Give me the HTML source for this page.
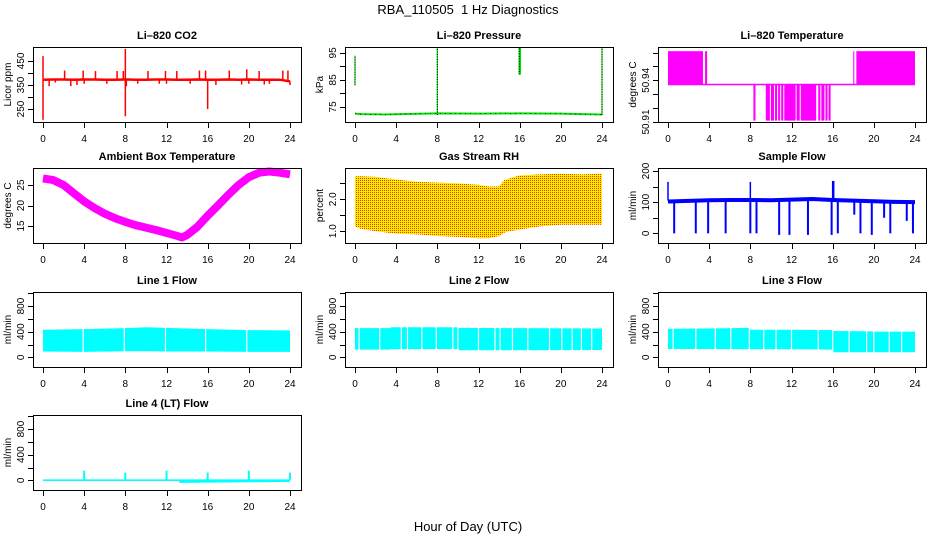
<!DOCTYPE html>
<html><head><meta charset="utf-8"><style>
html,body{margin:0;padding:0;background:#fff;}
svg{display:block;font-family:"Liberation Sans",Arial,sans-serif;}
</style></head><body>
<svg id="c" width="936" height="540" viewBox="0 0 936 540" xmlns="http://www.w3.org/2000/svg">
<defs>
<pattern id="rhpat" width="2" height="2" patternUnits="userSpaceOnUse">
<rect width="2" height="2" fill="#ffee00"/><rect width="1" height="1" fill="#ee3300"/>
</pattern>
</defs>
<text x="468" y="14" font-size="13" text-anchor="middle">RBA_110505&#160; 1 Hz Diagnostics</text>
<text x="468" y="531" font-size="13" text-anchor="middle">Hour of Day (UTC)</text>
</svg>
<script>
// ---- data ----
const xTicks = [0,4,8,12,16,20,24];
const co2BaseHours = [0,1,2,3,4,5,6,7,8,9,10,11,12,13,14,15,16,17,18,19,20,21,22,23,24];
const co2BaseVals = [372,373,373,372,373,373,372,372,373,372,372,373,373,372,372,373,372,372,373,372,373,372,372,372,365];
const co2SpikeHours = [0,0,0.6,1.2,2.1,2.7,3.3,3.9,4.0,5.1,6.2,7.2,7.8,8.0,8.0,8.1,9.2,10.2,11.3,11.9,12.0,13.0,14.3,15.2,15.8,16.0,16.8,18.1,19.3,19.8,20.0,21.0,21.5,22.0,23.3,23.8,24];
const co2SpikeVals = [470,205,345,360,410,345,350,410,355,408,355,408,408,500,220,345,355,408,355,408,355,408,355,410,410,250,350,410,352,415,355,408,352,355,410,410,350];

const ptHours = [0,0.6,2.7,8,12,16,20,22,24];
const ptVals = [72.5,72.3,72.2,72.6,72.5,72.6,72.5,72.3,72.2];
const ptSpikeHours = [0,8,16,24];
const ptSpikeLo = [83,72,87,72];
const ptSpikeHi = [94,97,97,97];

const ltHiStart = [0,3.6,18.0,18.3];
const ltHiEnd = [3.4,3.8,18.1,24];
const ltLoStart = [8.3,9.5,10.0,10.4,10.7,11.0,11.3,12.5,12.9,14.6,14.9,15.3,15.6];
const ltLoEnd = [8.5,9.9,10.3,10.6,10.9,11.2,12.4,12.8,14.4,14.8,15.2,15.5,15.8];
const ltLevels = [50.911,50.937,50.961];

const ambHours = [0,1,2,3,4,5,6,7,8,9,10,11,12,13,13.5,14,15,16,17,18,19,20,21,22,23,24];
const ambVals = [26.6,26.2,25,23,21,19.4,18,16.9,16,15.2,14.6,14,13.3,12.6,12.2,12.8,14.8,17.5,20,22.6,25,26.9,28,28.3,28,27.6];

const rhHours = [0,0.5,2,4,6,8,10,12,13,14,14.5,15,16,18,20,22,24];
const rhUpper = [2.72,2.72,2.7,2.62,2.55,2.52,2.5,2.45,2.4,2.4,2.6,2.65,2.75,2.78,2.8,2.78,2.8];
const rhLower = [1.15,1.08,1.0,0.92,0.9,0.85,0.82,0.78,0.78,0.85,0.95,1.0,1.05,1.15,1.2,1.2,1.2];

const sfHours = [0,2,4,6,8,10,12,14,16,18,20,22,24];
const sfVals = [102,104,106,107,107,106,108,110,107,105,103,101,100];
const sfDipHours = [0.6,2.7,3.9,5.6,8.0,8.6,10.8,11.8,13.6,15.9,16.5,18.1,18.7,19.8,21.0,21.6,23.2,23.8];
const sfDipVals = [0,0,0,0,0,0,-5,-5,-5,-5,0,60,0,-5,50,0,40,0];
const sfSpikeHours = [0,8,16,16.1];
const sfSpikeVals = [165,165,168,168];

const l1Hours = [0,4,8,10,12,16,20,24];
const l1Upper = [430,440,455,470,460,440,425,420];
const l1Lower = [90,85,95,95,90,90,85,85];
const l1Gaps = [3.9,7.9,11.9,15.8,19.8];

const l2Hours = [0,3.4,3.5,10,10.1,16,24];
const l2Upper = [455,455,470,470,460,455,450];
const l2Lower = [120,120,125,130,110,110,115];
const l2Gaps = [0.4,2.4,4.5,5.1,6.5,7.9,9.5,10.0,12.0,13.6,14.1,15.3,16.8,18.9,20.1,21.1,22.0,23.0];

const l3Hours = [0,4,7.9,8,12,16,16.1,20,20.1,24];
const l3Upper = [445,450,460,430,430,425,410,405,400,400];
const l3Lower = [130,130,125,125,125,120,80,80,80,80];
const l3Gaps = [0.5,2.7,4.6,6.1,7.9,9.3,10.5,12.0,14.6,16.0,17.6,19.3,20.0,21.5,22.7];

const l4Hours = [0,13.2,13.3,24];
const l4Upper = [15,15,15,15];
const l4Lower = [-10,-10,-40,-25];
const l4SpikeHours = [4,8,12,16,20,24];
const l4SpikeVals = [150,120,150,120,150,120];

// ---- layout ----
const svg = document.getElementById('c');
const NS = 'http://www.w3.org/2000/svg';
const colL = [33,345,658], rowT = [47,168,292,415], W = 268, H = 75;
function mk(tag, attrs, parent){const e=document.createElementNS(NS,tag);for(const k in attrs)e.setAttribute(k,attrs[k]);(parent||svg).appendChild(e);return e;}

function panel(name, col, row, title, ylab, ymin, ymax, ticks, labeled, fmt){
  const L=colL[col], T=rowT[row];
  const g = mk('g',{});
  
  
  const sx = h => L+10 + h/24*247;
  const sy = v => T+H - (v-ymin)/(ymax-ymin)*H;
  const plot = mk('g',{},g);
  
  
  const box = mk('rect',{x:L+0.5,y:T+0.5,width:W,height:H,fill:'none',stroke:'#000','stroke-width':1},g);
  
  
  const t = mk('text',{x:L+W/2,y:T-8,'font-size':11,'font-weight':'bold','text-anchor':'middle'},g);
  t.textContent = title;
  
  
  const yl = mk('text',{transform:`translate(${L-22},${T+H/2}) rotate(-90)`,'font-size':10,'text-anchor':'middle'},g);
  yl.textContent = ylab;
  
  
  const xa = mk('g',{},g);
  
  
  mk('line',{x1:sx(0),x2:sx(24),y1:T+H+0.5,y2:T+H+0.5,stroke:'#000'},xa);
  xTicks.forEach(h=>{
    mk('line',{x1:Math.round(sx(h))+0.5,x2:Math.round(sx(h))+0.5,y1:T+H,y2:T+H+6,stroke:'#000'},xa);
    const tx = mk('text',{x:sx(h),y:T+H+20,'font-size':10,'text-anchor':'middle'},xa);
    tx.textContent = h;
    
    
  });
  const ya = mk('g',{},g);
  
  
  mk('line',{x1:L+0.5,x2:L+0.5,y1:sy(ticks[0]),y2:sy(ticks[ticks.length-1]),stroke:'#000'},ya);
  ticks.forEach(v=>{
    const y=Math.round(sy(v))+0.5;
    mk('line',{x1:L-5,x2:L,y1:y,y2:y,stroke:'#000'},ya);
    if(labeled.includes(v)){
      const tx = mk('text',{transform:`translate(${L-9},${sy(v)}) rotate(-90)`,'font-size':10,'text-anchor':'middle'},ya);
      tx.textContent = fmt ? fmt(v) : String(v);
      
      
    }
  });
  return {sx,sy,plot};
}
function poly(p, pts, attrs, nm){const e=mk('polyline',Object.assign({points:pts.map(q=>q.join(',')).join(' '),fill:'none'},attrs),p);return e;}
function band(P, hours, up, lo, fill, nm){
  const pts=[];hours.forEach((h,i)=>pts.push([P.sx(h),P.sy(up[i])]));
  for(let i=hours.length-1;i>=0;i--)pts.push([P.sx(hours[i]),P.sy(lo[i])]);
  const e=mk('polygon',{points:pts.map(q=>q.join(',')).join(' '),fill:fill},P.plot);
  return e;
}
function vline(P,h,a,b,color,w,nm,dash){
  const e=mk('line',{x1:P.sx(h),x2:P.sx(h),y1:P.sy(a),y2:P.sy(b),stroke:color,'stroke-width':w},P.plot);
  if(dash)e.setAttribute('stroke-dasharray',dash);
  return e;
}

// CO2
let P = panel('co2',0,0,'Li\u2013820 CO2','Licor ppm',196,508,[250,300,350,400,450],[250,350,450]);
co2SpikeHours.forEach((h,i)=>vline(P,h,co2BaseVals[Math.min(Math.round(h),24)],co2SpikeVals[i],'#f00',1.5,'co2-spike'));
poly(P.plot, co2BaseHours.map((h,i)=>[P.sx(h),P.sy(co2BaseVals[i])]),{stroke:'#f00','stroke-width':2.5},'co2-line');

// Pressure
P = panel('pressure',1,0,'Li\u2013820 Pressure','kPa',69.4,97.2,[75,80,85,90,95],[75,85,95]);
poly(P.plot, ptHours.map((h,i)=>[P.sx(h),P.sy(ptVals[i])]),{stroke:'#00dd00','stroke-width':2},'pressure-line');
poly(P.plot, ptHours.map((h,i)=>[P.sx(h),P.sy(ptVals[i])]),{stroke:'#000','stroke-width':0.6,'stroke-dasharray':'1 4'},'pressure-points');
ptSpikeHours.forEach((h,i)=>{vline(P,h,ptSpikeLo[i],ptSpikeHi[i],'#00dd00',i==2?2.5:1.2,'pressure-spike');vline(P,h,ptSpikeLo[i],ptSpikeHi[i],'#000',1,'pressure-spike-dots','1 1.5');});

// Li-820 temperature
P = panel('li820-temp',2,0,'Li\u2013820 Temperature','degrees C',50.91,50.964,[50.91,50.92,50.93,50.94,50.95,50.96],[50.91,50.94]);
ltHiStart.forEach((s,i)=>{const e=mk('rect',{x:P.sx(s),y:P.sy(ltLevels[2]),width:P.sx(ltHiEnd[i])-P.sx(s),height:P.sy(ltLevels[1])-P.sy(ltLevels[2]),fill:'#ff00ff'},P.plot);});
ltLoStart.forEach((s,i)=>{const e=mk('rect',{x:P.sx(s),y:P.sy(ltLevels[1]),width:P.sx(ltLoEnd[i])-P.sx(s),height:P.sy(ltLevels[0])-P.sy(ltLevels[1]),fill:'#ff00ff'},P.plot);});
poly(P.plot,[[P.sx(0),P.sy(ltLevels[1])],[P.sx(24),P.sy(ltLevels[1])]],{stroke:'#ff00ff','stroke-width':1.5},'temp-mid-line');

// Ambient
P = panel('ambient',0,1,'Ambient Box Temperature','degrees C',10.85,29.15,[15,20,25],[15,20,25]);
poly(P.plot, ambHours.map((h,i)=>[P.sx(h),P.sy(ambVals[i])]),{stroke:'#ff00ff','stroke-width':8,'stroke-linejoin':'round'},'ambient-line');

// RH
P = panel('rh',1,1,'Gas Stream RH','percent',0.63,2.98,[1.0,1.5,2.0,2.5],[1.0,2.0],v=>v.toFixed(1));
band(P,rhHours,rhUpper,rhLower,'url(#rhpat)','rh-band');

// Sample flow
P = panel('sample-flow',2,1,'Sample Flow','ml/min',-31,209.6,[0,50,100,150,200],[0,100,200]);
sfDipHours.forEach((h,i)=>vline(P,h,105,sfDipVals[i],'#0000ff',2,'sample-dip'));
sfSpikeHours.forEach((h,i)=>vline(P,h,105,sfSpikeVals[i],'#0000ff',1.5,'sample-spike'));
poly(P.plot, sfHours.map((h,i)=>[P.sx(h),P.sy(sfVals[i])]),{stroke:'#0000ff','stroke-width':4},'sample-line');

// Line flows
function flow(name,col,row,title,hours,up,lo,gaps){
  const Q = panel(name,col,row,title,'ml/min',-151,1019,[0,200,400,600,800,1000],[0,400,800]);
  band(Q,hours,up,lo,'#00ffff',name+'-band');
  const lmin=Math.min(...lo)-10, umax=Math.max(...up)+10;
  gaps.forEach(h=>vline(Q,h,lmin,umax,'#fff',1.2,name+'-gap'));
  return Q;
}
flow('line1-flow',0,2,'Line 1 Flow',l1Hours,l1Upper,l1Lower,l1Gaps);
flow('line2-flow',1,2,'Line 2 Flow',l2Hours,l2Upper,l2Lower,l2Gaps);
flow('line3-flow',2,2,'Line 3 Flow',l3Hours,l3Upper,l3Lower,l3Gaps);
P = flow('line4-flow',0,3,'Line 4 (LT) Flow',l4Hours,l4Upper,l4Lower,[]);
l4SpikeHours.forEach((h,i)=>vline(P,h,10,l4SpikeVals[i],'#00ffff',2,'line4-spike'));
</script>
</body></html>
